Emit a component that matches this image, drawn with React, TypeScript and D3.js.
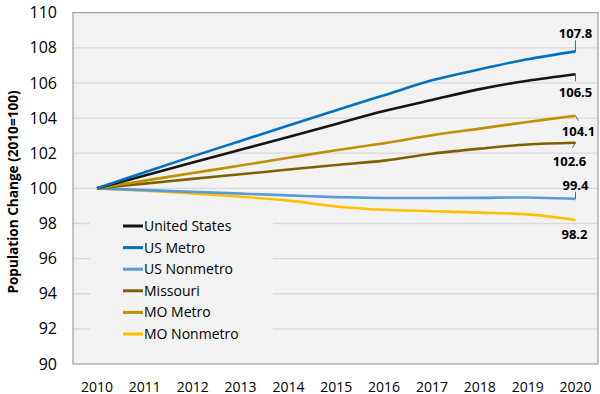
import React from 'react';
import * as d3 from 'd3';

const years = ['2010', '2011', '2012', '2013', '2014', '2015', '2016', '2017', '2018', '2019', '2020'];
const yTicks = [90, 92, 94, 96, 98, 100, 102, 104, 106, 108, 110];

const unitedStates = [100, 100.73, 101.47, 102.2, 102.93, 103.67, 104.4, 105.03, 105.65, 106.13, 106.5];
const usMetro = [100, 100.92, 101.82, 102.7, 103.58, 104.45, 105.3, 106.15, 106.78, 107.35, 107.8];
const usNonmetro = [100, 99.9, 99.8, 99.7, 99.6, 99.5, 99.45, 99.45, 99.46, 99.48, 99.4];
const missouri = [100, 100.27, 100.54, 100.8, 101.07, 101.33, 101.58, 101.97, 102.26, 102.5, 102.6];
const moMetro = [100, 100.44, 100.87, 101.3, 101.74, 102.17, 102.57, 103.02, 103.4, 103.78, 104.13];
const moNonmetro = [100, 99.87, 99.7, 99.52, 99.3, 98.97, 98.78, 98.7, 98.62, 98.52, 98.2];

const seriesNames = ['United States', 'US Metro', 'US Nonmetro', 'Missouri', 'MO Metro', 'MO Nonmetro'];
const endLabels = ['106.5', '107.8', '99.4', '102.6', '104.1', '98.2'];

// style per series (same order as seriesNames)
const colors = ['#141414', '#0070c0', '#5b9bd5', '#7f6000', '#bf9000', '#ffc000'];
// label offset from last point [dx, dy] and leader line end
const labelOffsets = [
  { dx: 0, dy: 23, lx: 0, ly: 7 },
  { dx: 0, dy: -13, lx: 0, ly: -11 },
  { dx: 0, dy: -9, lx: 0, ly: -7 },
  { dx: -6, dy: 23, lx: -3, ly: 5 },
  { dx: 3, dy: 20, lx: 3, ly: 5 },
  { dx: -1, dy: 19, lx: 0, ly: 0 },
];

const W = 600;
const H = 394;
const plot = { left: 73, right: 598, top: 12.7, bottom: 364 };

export default function App() {
  const data = [unitedStates, usMetro, usNonmetro, missouri, moMetro, moNonmetro];
  // draw order: back to front like the reference
  const drawOrder = [5, 2, 3, 4, 0, 1];

  const x = d3.scalePoint<string>().domain(years).range([97, 575.5]);
  const y = d3.scaleLinear().domain([90, 110]).range([plot.bottom, plot.top]);

  const line = d3
    .line<number>()
    .x((_, i) => x(years[i]) as number)
    .y((d) => y(d))
    .curve(d3.curveCatmullRom.alpha(0.5));

  const legendX = 123;
  const legendY0 = 226;
  const legendStep = 21.6;

  return (
    <svg
      width={W}
      height={H}
      style={{ position: 'absolute', left: 0, top: 0, background: '#fff' }}
      fontFamily="'Open Sans', sans-serif"
    >
      <rect
        x={plot.left}
        y={plot.top}
        width={plot.right - plot.left}
        height={plot.bottom - plot.top}
        fill="#f2f2f2"
      />
      {yTicks.map((t) => (
        <g key={t}>
          {t > 90 && t < 110 && (
            <line x1={plot.left} x2={plot.right} y1={y(t)} y2={y(t)} stroke="#d9d9d9" strokeWidth={1.3} />
          )}
          <text x={57} y={y(t)} dy="0.35em" textAnchor="end" fontSize={16} fill="#000">
            {t}
          </text>
        </g>
      ))}
      <rect
        x={plot.left}
        y={plot.top}
        width={plot.right - plot.left}
        height={plot.bottom - plot.top}
        fill="none"
        stroke="#8c8c8c"
        strokeWidth={1}
      />
      {years.map((yr) => (
        <text key={yr} x={x(yr)} y={391.5} textAnchor="middle" fontSize={14} fill="#000">
          {yr}
        </text>
      ))}
      <text
        transform="translate(18,192) rotate(-90)"
        textAnchor="middle"
        fontSize={13.6}
        fontWeight="bold"
        fill="#000"
      >
        Population Change (2010=100)
      </text>

      {/* legend box hides gridlines */}
      <rect x={90} y={212} width={183} height={134} fill="#f2f2f2" />
      {seriesNames.map((name, i) => (
        <g key={name} transform={`translate(${legendX},${legendY0 + i * legendStep})`}>
          <line x1={0} x2={20} y1={0} y2={0} stroke={colors[i]} strokeWidth={3} />
          <text x={21} y={0} dy="0.35em" fontSize={14} fill="#000">
            {name}
          </text>
        </g>
      ))}

      {drawOrder.map((i) => (
        <path
          key={seriesNames[i]}
          d={line(data[i]) ?? ''}
          fill="none"
          stroke={colors[i]}
          strokeWidth={2.6}
          strokeLinejoin="round"
        />
      ))}

      {data.map((vals, i) => {
        const px = x(years[years.length - 1]) as number;
        const py = y(vals[vals.length - 1]);
        const o = labelOffsets[i];
        return (
          <g key={`lab-${i}`}>
            {(o.lx !== 0 || o.ly !== 0) && (
              <line x1={px} y1={py} x2={px + o.lx} y2={py + o.ly} stroke="#404040" strokeWidth={0.8} />
            )}
            <text x={px + o.dx} y={py + o.dy} textAnchor="middle" fontSize={13} fontWeight="bold" fill="#000">
              {endLabels[i]}
            </text>
          </g>
        );
      })}
    </svg>
  );
}
